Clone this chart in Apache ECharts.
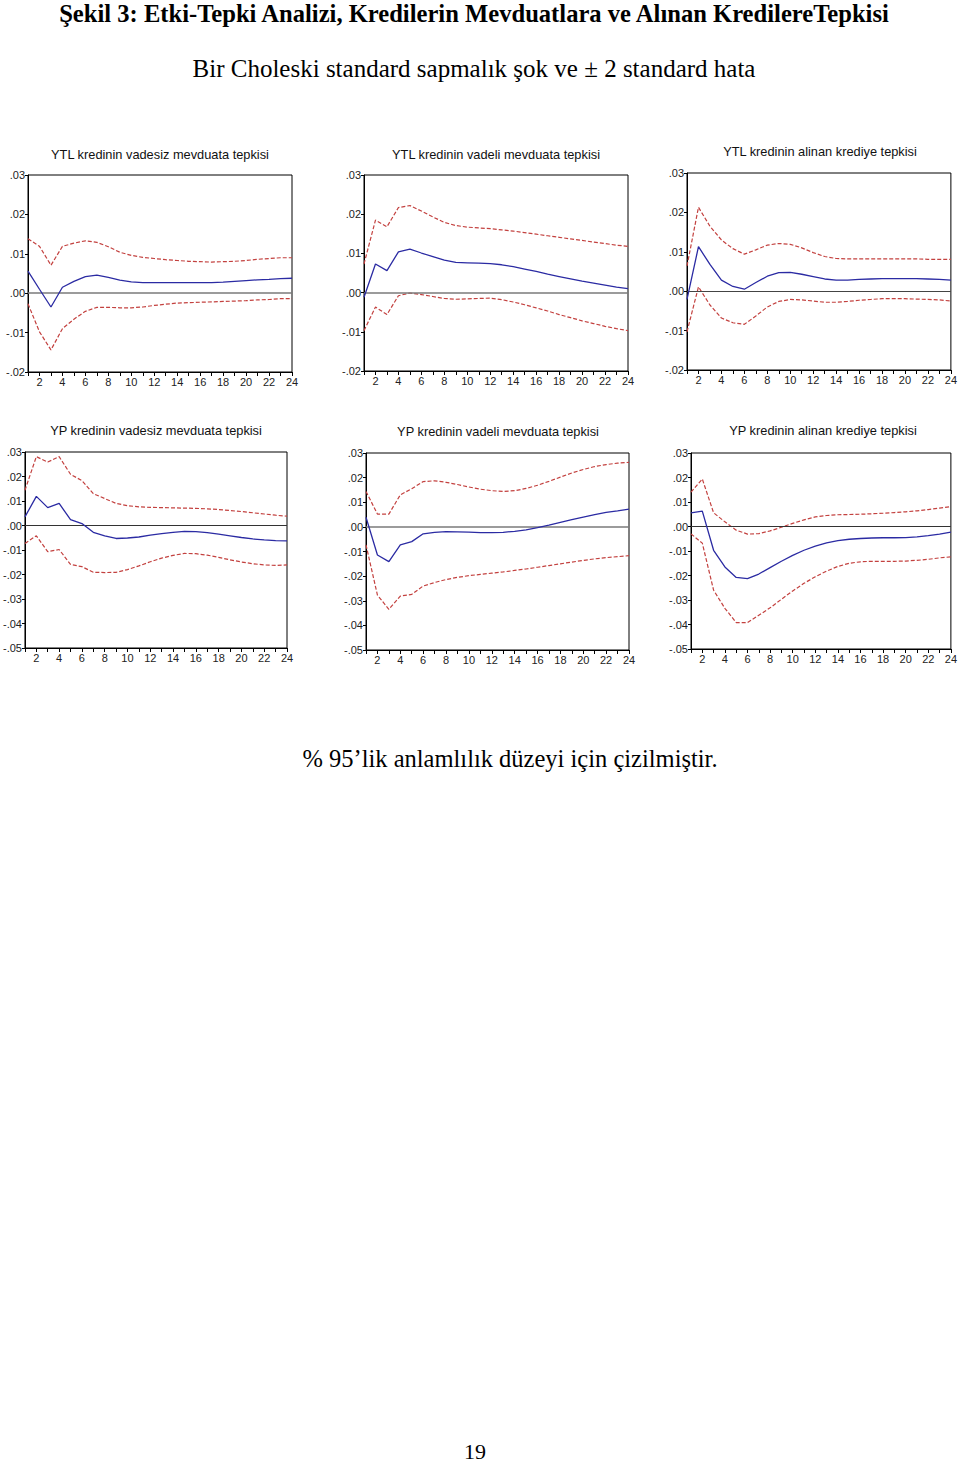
<!DOCTYPE html>
<html>
<head>
<meta charset="utf-8">
<script src="https://cdn.jsdelivr.net/npm/echarts@6/dist/echarts.min.js"></script>
<style>
html,body{margin:0;padding:0;background:#fff;}
#chart{width:960px;height:1465px;}
</style>
</head>
<body>
<div id="chart"></div>
<script>
// ---- data ----
const periods = [1,2,3,4,5,6,7,8,9,10,11,12,13,14,15,16,17,18,19,20,21,22,23,24];
const xTickLabels = [2,4,6,8,10,12,14,16,18,20,22,24];

const panelTitles = [
  "YTL kredinin vadesiz mevduata tepkisi",
  "YTL kredinin vadeli mevduata tepkisi",
  "YTL kredinin alinan krediye tepkisi",
  "YP kredinin vadesiz mevduata tepkisi",
  "YP kredinin vadeli mevduata tepkisi",
  "YP kredinin alinan krediye tepkisi"
];

// YTL -> vadesiz mevduat
const ytlVadesizIrf   = [0.0056,0.0010,-0.0035,0.0015,0.0030,0.0042,0.0046,0.0040,0.0033,0.0029,0.0027,0.0027,0.0027,0.0027,0.0027,0.0027,0.0027,0.0028,0.0030,0.0032,0.0034,0.0035,0.0037,0.0038];
const ytlVadesizUpper = [0.0138,0.0119,0.0071,0.0119,0.0127,0.0133,0.0129,0.0118,0.0104,0.0096,0.0091,0.0088,0.0085,0.0083,0.0081,0.0080,0.0079,0.0080,0.0081,0.0083,0.0086,0.0088,0.0090,0.0090];
const ytlVadesizLower = [-0.0027,-0.0098,-0.0144,-0.0090,-0.0066,-0.0046,-0.0036,-0.0036,-0.0037,-0.0037,-0.0035,-0.0031,-0.0028,-0.0025,-0.0024,-0.0023,-0.0022,-0.0021,-0.0020,-0.0019,-0.0017,-0.0016,-0.0014,-0.0014];

// YTL -> vadeli mevduat
const ytlVadeliIrf   = [-0.0012,0.0073,0.0056,0.0104,0.0111,0.0101,0.0092,0.0083,0.0077,0.0076,0.0075,0.0074,0.0071,0.0066,0.0060,0.0054,0.0047,0.0041,0.0035,0.0029,0.0024,0.0019,0.0014,0.0010];
const ytlVadeliUpper = [0.0073,0.0185,0.0168,0.0217,0.0222,0.0208,0.0193,0.0179,0.0171,0.0167,0.0165,0.0163,0.0160,0.0157,0.0153,0.0149,0.0145,0.0141,0.0137,0.0133,0.0129,0.0125,0.0121,0.0118];
const ytlVadeliLower = [-0.0097,-0.0037,-0.0056,-0.0008,-0.0001,-0.0005,-0.0010,-0.0015,-0.0017,-0.0016,-0.0015,-0.0014,-0.0018,-0.0024,-0.0031,-0.0039,-0.0047,-0.0056,-0.0064,-0.0072,-0.0079,-0.0086,-0.0092,-0.0097];

// YTL -> alinan kredi
const ytlKrediIrf   = [-0.0021,0.0113,0.0068,0.0028,0.0012,0.0005,0.0022,0.0038,0.0047,0.0048,0.0043,0.0037,0.0031,0.0028,0.0028,0.0030,0.0031,0.0032,0.0032,0.0032,0.0032,0.0031,0.0030,0.0028];
const ytlKrediUpper = [0.0064,0.0213,0.0165,0.0130,0.0108,0.0094,0.0105,0.0117,0.0121,0.0119,0.0110,0.0098,0.0088,0.0083,0.0082,0.0082,0.0082,0.0082,0.0082,0.0082,0.0082,0.0081,0.0081,0.0081];
const ytlKrediLower = [-0.0103,0.0011,-0.0035,-0.0068,-0.0080,-0.0084,-0.0063,-0.0040,-0.0026,-0.0021,-0.0022,-0.0025,-0.0028,-0.0028,-0.0026,-0.0023,-0.0021,-0.0019,-0.0019,-0.0019,-0.0020,-0.0021,-0.0022,-0.0025];

// YP -> vadesiz mevduat
const ypVadesizIrf   = [0.0035,0.0119,0.0073,0.0090,0.0024,0.0008,-0.0028,-0.0042,-0.0053,-0.0051,-0.0047,-0.0039,-0.0033,-0.0028,-0.0024,-0.0025,-0.0029,-0.0035,-0.0042,-0.0049,-0.0055,-0.0059,-0.0062,-0.0063];
const ypVadesizUpper = [0.0144,0.0281,0.0259,0.0281,0.0209,0.0183,0.0130,0.0110,0.0090,0.0081,0.0076,0.0074,0.0073,0.0072,0.0071,0.0070,0.0068,0.0065,0.0061,0.0057,0.0052,0.0047,0.0042,0.0038];
const ypVadesizLower = [-0.0073,-0.0042,-0.0107,-0.0098,-0.0159,-0.0168,-0.0191,-0.0192,-0.0191,-0.0180,-0.0165,-0.0148,-0.0133,-0.0122,-0.0114,-0.0115,-0.0121,-0.0130,-0.0140,-0.0149,-0.0156,-0.0161,-0.0163,-0.0161];

// YP -> vadeli mevduat
const ypVadeliIrf   = [0.0039,-0.0114,-0.0141,-0.0073,-0.0060,-0.0028,-0.0022,-0.0019,-0.0020,-0.0021,-0.0023,-0.0023,-0.0022,-0.0018,-0.0012,-0.0003,0.0007,0.0018,0.0029,0.0040,0.0050,0.0059,0.0065,0.0072];
const ypVadeliUpper = [0.0144,0.0052,0.0052,0.0130,0.0155,0.0184,0.0187,0.0181,0.0172,0.0162,0.0153,0.0147,0.0144,0.0147,0.0156,0.0169,0.0185,0.0202,0.0219,0.0233,0.0245,0.0253,0.0259,0.0262];
const ypVadeliLower = [-0.0073,-0.0277,-0.0335,-0.0281,-0.0274,-0.0240,-0.0226,-0.0214,-0.0205,-0.0198,-0.0193,-0.0188,-0.0183,-0.0177,-0.0171,-0.0164,-0.0157,-0.0150,-0.0143,-0.0136,-0.0130,-0.0125,-0.0121,-0.0117];

// YP -> alinan kredi
const ypKrediIrf   = [0.0056,0.0063,-0.0097,-0.0165,-0.0208,-0.0213,-0.0194,-0.0168,-0.0142,-0.0118,-0.0097,-0.0080,-0.0067,-0.0058,-0.0052,-0.0049,-0.0047,-0.0046,-0.0046,-0.0045,-0.0042,-0.0037,-0.0031,-0.0023];
const ypKrediUpper = [0.0140,0.0194,0.0056,0.0019,-0.0015,-0.0031,-0.0029,-0.0018,-0.0003,0.0013,0.0027,0.0039,0.0045,0.0048,0.0049,0.0050,0.0052,0.0054,0.0057,0.0060,0.0064,0.0069,0.0075,0.0081];
const ypKrediLower = [-0.0030,-0.0068,-0.0260,-0.0334,-0.0392,-0.0392,-0.0362,-0.0332,-0.0297,-0.0263,-0.0232,-0.0205,-0.0182,-0.0163,-0.0150,-0.0144,-0.0142,-0.0142,-0.0142,-0.0141,-0.0138,-0.0134,-0.0128,-0.0124];

const yRangeTop = [-0.02, 0.03];
const yRangeBottom = [-0.05, 0.03];

// ---- layout ----
const panels = [
  {irf: ytlVadesizIrf, up: ytlVadesizUpper, lo: ytlVadesizLower, range: yRangeTop,    grid:{left:28, top:175, width:264, height:197}, title:{x:160,y:154}, zero:{c:'#7a7a7a', w:1.6}},
  {irf: ytlVadeliIrf,  up: ytlVadeliUpper,  lo: ytlVadeliLower,  range: yRangeTop,    grid:{left:364,top:175, width:264, height:196}, title:{x:496,y:154}, zero:{c:'#7a7a7a', w:1.6}},
  {irf: ytlKrediIrf,   up: ytlKrediUpper,   lo: ytlKrediLower,   range: yRangeTop,    grid:{left:687,top:173, width:265, height:197}, title:{x:820,y:151}, zero:{c:'#444', w:1}},
  {irf: ypVadesizIrf,  up: ypVadesizUpper,  lo: ypVadesizLower,  range: yRangeBottom, grid:{left:23, top:452, width:264, height:196}, title:{x:156,y:430}, zero:{c:'#333', w:1}},
  {irf: ypVadeliIrf,   up: ypVadeliUpper,   lo: ypVadeliLower,   range: yRangeBottom, grid:{left:366,top:453, width:263, height:197}, title:{x:498,y:431}, zero:{c:'#7a7a7a', w:1.6}},
  {irf: ypKrediIrf,    up: ypKrediUpper,    lo: ypKrediLower,    range: yRangeBottom, grid:{left:691,top:453, width:263, height:196}, title:{x:823,y:430}, zero:{c:'#333', w:1}}
];

const BLUE = '#2b2ba3';
const RED = '#c3413f';
const fmtY = v => {
  const r = Math.round(v*100)/100;
  const s = Math.abs(r).toFixed(2).replace(/^0/, '');
  return (r < 0 ? '-' : '') + s;
};

const grids = [], xAxes = [], yAxes = [], series = [], graphics = [];
panels.forEach((p, i) => {
  grids.push(Object.assign({show:true, borderColor:'#000', borderWidth:1, backgroundColor:'transparent'}, p.grid));
  xAxes.push({
    type:'value', gridIndex:i, min:1, max:24, interval:1,
    axisLine:{show:true, onZero:false, lineStyle:{color:'#000', width:1}},
    axisTick:{show:true, inside:false, length:4, lineStyle:{color:'#000'}},
    splitLine:{show:false},
    axisLabel:{fontFamily:'Liberation Sans, Arial', fontSize:11, color:'#222', margin:4,
      formatter: v => xTickLabels.indexOf(v) >= 0 ? String(v) : ''}
  });
  yAxes.push({
    type:'value', gridIndex:i, min:p.range[0], max:p.range[1], interval:0.01,
    axisLine:{show:true, lineStyle:{color:'#000', width:1}},
    axisTick:{show:true, inside:false, length:3, lineStyle:{color:'#000'}},
    splitLine:{show:false},
    axisLabel:{fontFamily:'Liberation Sans, Arial', fontSize:11, color:'#222', margin:3, formatter: fmtY}
  });
  const toPts = arr => periods.map((t, k) => [t, arr[k]]);
  series.push({
    type:'line', xAxisIndex:i, yAxisIndex:i, data: toPts(p.irf), showSymbol:false, symbol:'none',
    lineStyle:{color:BLUE, width:1.3}, z:5, silent:true, animation:false,
    markLine:{silent:true, symbol:['none','none'], label:{show:false},
      lineStyle:{color:p.zero.c, width:p.zero.w, type:'solid'}, data:[{yAxis:0}], animation:false}
  });
  series.push({
    type:'line', xAxisIndex:i, yAxisIndex:i, data: toPts(p.up), showSymbol:false, symbol:'none',
    lineStyle:{color:RED, width:1.2, type:[4,2]}, z:4, silent:true, animation:false
  });
  series.push({
    type:'line', xAxisIndex:i, yAxisIndex:i, data: toPts(p.lo), showSymbol:false, symbol:'none',
    lineStyle:{color:RED, width:1.2, type:[4,2]}, z:4, silent:true, animation:false
  });
  graphics.push({
    type:'text', x:p.title.x, y:p.title.y,
    style:{text:panelTitles[i], fill:'#111', font:'12.8px "Liberation Sans", Arial', textAlign:'center', textVerticalAlign:'middle'}
  });
});

graphics.push({type:'text', x:474, y:13,
  style:{text:'Şekil 3: Etki-Tepki Analizi, Kredilerin Mevduatlara ve Alınan KredilereTepkisi', fill:'#000',
    font:'bold 24.6px "Liberation Serif", "Times New Roman", serif', textAlign:'center', textVerticalAlign:'middle'}});
graphics.push({type:'text', x:474, y:68,
  style:{text:'Bir Choleski standard sapmalık şok ve ± 2 standard hata', fill:'#000',
    font:'25px "Liberation Serif", "Times New Roman", serif', textAlign:'center', textVerticalAlign:'middle'}});
graphics.push({type:'text', x:510, y:758,
  style:{text:'% 95’lik anlamlılık düzeyi için çizilmiştir.', fill:'#000',
    font:'24.5px "Liberation Serif", "Times New Roman", serif', textAlign:'center', textVerticalAlign:'middle'}});
graphics.push({type:'text', x:475, y:1451,
  style:{text:'19', fill:'#000',
    font:'22px "Liberation Serif", "Times New Roman", serif', textAlign:'center', textVerticalAlign:'middle'}});

const chart = echarts.init(document.getElementById('chart'), null, {renderer:'svg', width:960, height:1465});
chart.setOption({
  animation:false,
  backgroundColor:'#fff',
  grid: grids,
  xAxis: xAxes,
  yAxis: yAxes,
  series: series,
  graphic: graphics
});
</script>
</body>
</html>
